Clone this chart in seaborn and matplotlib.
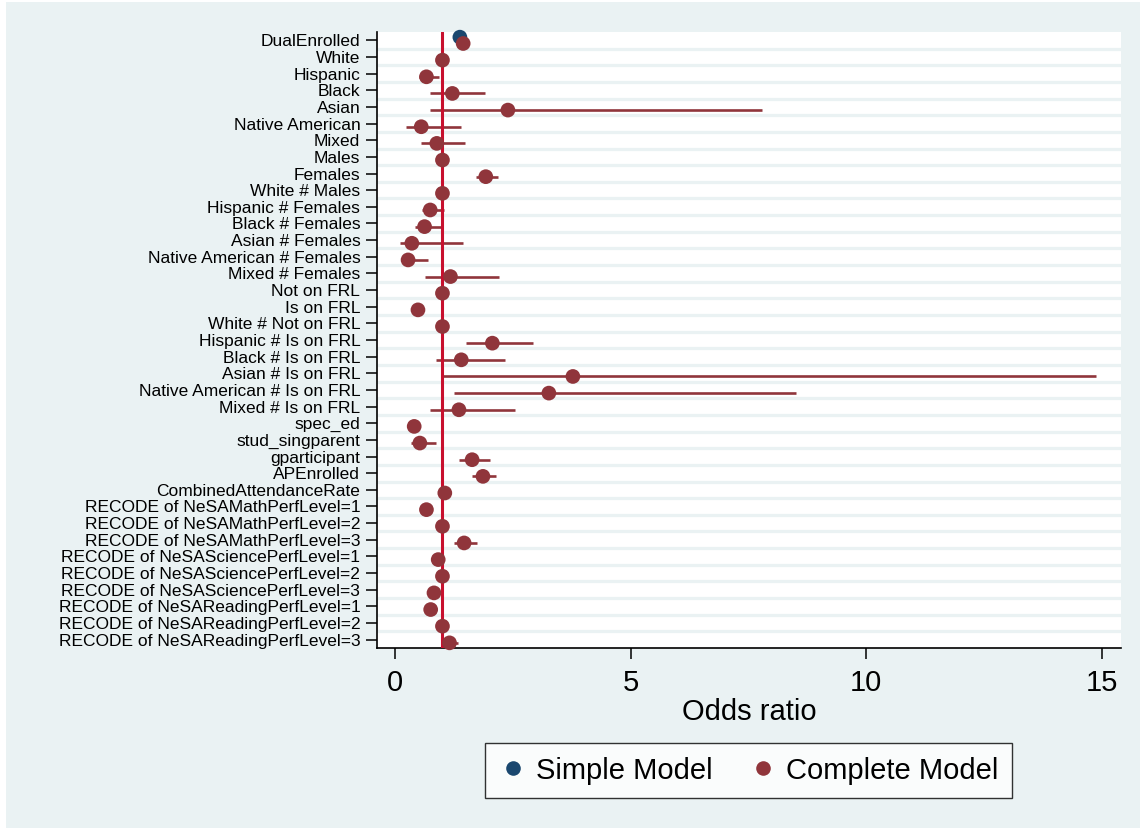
import numpy as np
import pandas as pd
import matplotlib
matplotlib.use("Agg")
import matplotlib.pyplot as plt
from matplotlib.patches import Rectangle
from matplotlib.lines import Line2D
import seaborn as sns

# ---------------- data ----------------
categories = [
    "DualEnrolled", "White", "Hispanic", "Black", "Asian", "Native American", "Mixed",
    "Males", "Females", "White # Males", "Hispanic # Females", "Black # Females",
    "Asian # Females", "Native American # Females", "Mixed # Females",
    "Not on FRL", "Is on FRL", "White # Not on FRL", "Hispanic # Is on FRL",
    "Black # Is on FRL", "Asian # Is on FRL", "Native American # Is on FRL",
    "Mixed # Is on FRL", "spec_ed", "stud_singparent", "gparticipant", "APEnrolled",
    "CombinedAttendanceRate",
    "RECODE of NeSAMathPerfLevel=1", "RECODE of NeSAMathPerfLevel=2",
    "RECODE of NeSAMathPerfLevel=3",
    "RECODE of NeSASciencePerfLevel=1", "RECODE of NeSASciencePerfLevel=2",
    "RECODE of NeSASciencePerfLevel=3",
    "RECODE of NeSAReadingPerfLevel=1", "RECODE of NeSAReadingPerfLevel=2",
    "RECODE of NeSAReadingPerfLevel=3",
]

complete_or = [1.44, 1.00, 0.66, 1.21, 2.39, 0.55, 0.88, 1.00, 1.92, 1.00, 0.74, 0.62,
               0.35, 0.27, 1.17, 1.00, 0.48, 1.00, 2.06, 1.40, 3.77, 3.26, 1.35, 0.40,
               0.52, 1.63, 1.86, 1.05, 0.66, 1.00, 1.46, 0.91, 1.00, 0.82, 0.75, 1.00, 1.15]
complete_lo = [1.36, 1.00, 0.50, 0.74, 0.73, 0.23, 0.54, 1.00, 1.71, 1.00, 0.57, 0.41,
               0.09, 0.12, 0.62, 1.00, 0.42, 1.00, 1.49, 0.87, 0.96, 1.25, 0.73, 0.33,
               0.34, 1.35, 1.63, 1.03, 0.58, 1.00, 1.24, 0.84, 1.00, 0.67, 0.67, 1.00, 0.98]
complete_hi = [1.53, 1.00, 0.93, 1.91, 7.79, 1.40, 1.48, 1.00, 2.19, 1.00, 1.03, 0.96,
               1.44, 0.69, 2.21, 1.00, 0.56, 1.00, 2.92, 2.32, 14.87, 8.50, 2.55, 0.48,
               0.87, 2.02, 2.14, 1.07, 0.75, 1.00, 1.73, 0.98, 1.00, 1.01, 0.84, 1.00, 1.34]

simple_categories = ["DualEnrolled"]
simple_or = [1.37]
simple_lo = [1.31]
simple_hi = [1.43]

model_names = ["Simple Model", "Complete Model"]
model_colors = ["#1A476F", "#90353B"]

# ---------------- build table ----------------
row_index = {c: i for i, c in enumerate(categories)}
df_simple = pd.DataFrame({
    "term": simple_categories, "or": simple_or, "lo": simple_lo, "hi": simple_hi,
    "Model": model_names[0]})
df_simple["ypos"] = [row_index[c] - 0.19 for c in simple_categories]
df_complete = pd.DataFrame({
    "term": categories, "or": complete_or, "lo": complete_lo, "hi": complete_hi,
    "Model": model_names[1]})
df_complete["ypos"] = [row_index[c] + 0.19 for c in categories]
df = pd.concat([df_simple, df_complete], ignore_index=True)
palette = dict(zip(model_names, model_colors))

# ---------------- style ----------------
sns.set_style("white")
plt.rcParams["font.family"] = ["Liberation Sans", "DejaVu Sans"]
for k in ["text.color", "axes.labelcolor", "xtick.color", "ytick.color",
          "xtick.labelcolor", "ytick.labelcolor"]:
    plt.rcParams[k] = "black"

W, H = 1142, 830
fig = plt.figure(figsize=(W / 100, H / 100), dpi=100)
fig.patch.set_facecolor("white")
fig.patches.append(Rectangle((6 / W, 2 / H), (1140 - 6) / W, (828 - 2) / H,
                             transform=fig.transFigure, facecolor="#EAF2F3",
                             edgecolor="none", zorder=-10))

ax = fig.add_axes([377 / W, 1 - 648 / H, (1121 - 377) / W, (648 - 32) / H])
ax.set_facecolor("white")

xlim = (-0.39, 15.41)
n = len(categories)

# grid lines between rows
ax.hlines(np.arange(n - 1) + 0.5, xlim[0], xlim[1], color="#EAF2F3", lw=2.3, zorder=1)

# confidence intervals
for _, r in df.iterrows():
    ax.hlines(r["ypos"], r["lo"], r["hi"], color=palette[r["Model"]], lw=1.9, zorder=2)

# reference line
ax.axvline(1, color="#C8102E", lw=2.2, zorder=3)

# point estimates
sns.scatterplot(data=df, x="or", y="ypos", hue="Model", palette=palette, s=112,
                linewidth=0, ax=ax, zorder=4, legend=False, clip_on=False)

ax.set_xlim(*xlim)
ax.set_ylim(n - 0.5, -0.5)
ax.set_yticks(range(n))
ax.set_yticklabels(categories, fontsize=12.5, color="black")
ax.set_xticks([0, 5, 10, 15])
ax.set_xticklabels(["0", "5", "10", "15"], fontsize=21, color="black")
ax.tick_params(axis="y", length=8, width=1.1, pad=4, direction="out", left=True, color="black")
ax.tick_params(axis="x", length=8, width=1.1, pad=7, direction="out", bottom=True, color="black")
ax.set_ylabel("")
ax.set_xlabel("Odds ratio", fontsize=21, labelpad=1, color="black")

for s in ["top", "right"]:
    ax.spines[s].set_visible(False)
for s in ["left", "bottom"]:
    ax.spines[s].set_color("black")
    ax.spines[s].set_linewidth(1.2)

handles = [Line2D([], [], marker="o", linestyle="", markersize=10.5, color=c,
                  markeredgewidth=0) for c in model_colors]
leg = fig.legend(handles, model_names, loc="center",
                 bbox_to_anchor=(748.5 / W, 1 - 770.5 / H), bbox_transform=fig.transFigure,
                 ncol=2, fontsize=21, frameon=True, fancybox=False, edgecolor="black",
                 handletextpad=0.3, columnspacing=1.2, borderpad=0.45, handlelength=1.0,
                 labelcolor="black")
leg.get_frame().set_linewidth(1.0)
leg.get_frame().set_facecolor("white")

fig.savefig("out.png", dpi=100, facecolor=fig.get_facecolor())
